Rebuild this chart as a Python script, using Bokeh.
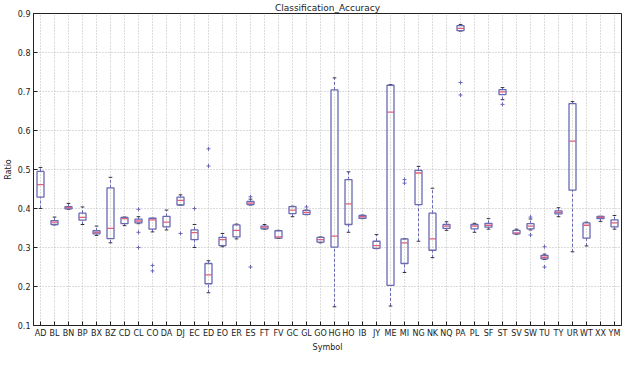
from bokeh.plotting import figure
from bokeh.models import FactorRange, Range1d, ColumnDataSource, FixedTicker
from bokeh.transform import dodge
from bokeh.embed import file_html
from bokeh.resources import INLINE

symbols = ["AD", "BL", "BN", "BP", "BX", "BZ", "CD", "CL", "CO", "DA", "DJ", "EC", "ED", "EO",
           "ER", "ES", "FT", "FV", "GC", "GL", "GO", "HG", "HO", "IB", "JY", "ME", "MI", "NG",
           "NK", "NQ", "PA", "PL", "SF", "ST", "SV", "SW", "TU", "TY", "UR", "WT", "XX", "YM"]

whisk_lo = [0.400, 0.358, 0.398, 0.359, 0.331, 0.312, 0.356, 0.361, 0.340, 0.345, 0.409, 0.300, 0.184, 0.302,
            0.322, 0.409, 0.347, 0.323, 0.379, 0.384, 0.312, 0.148, 0.339, 0.374, 0.297, 0.150, 0.236, 0.316,
            0.274, 0.344, 0.855, 0.339, 0.347, 0.679, 0.334, 0.345, 0.269, 0.379, 0.289, 0.304, 0.367, 0.347]
q1 = [0.429, 0.359, 0.399, 0.370, 0.335, 0.323, 0.361, 0.363, 0.347, 0.353, 0.409, 0.320, 0.207, 0.305,
      0.327, 0.410, 0.348, 0.324, 0.387, 0.385, 0.314, 0.301, 0.359, 0.375, 0.298, 0.203, 0.259, 0.410,
      0.293, 0.349, 0.856, 0.348, 0.352, 0.692, 0.335, 0.348, 0.271, 0.386, 0.447, 0.324, 0.374, 0.353]
median = [0.461, 0.365, 0.402, 0.377, 0.339, 0.349, 0.374, 0.368, 0.371, 0.365, 0.421, 0.338, 0.230, 0.320,
          0.344, 0.414, 0.352, 0.327, 0.396, 0.390, 0.320, 0.329, 0.412, 0.379, 0.305, 0.647, 0.312, 0.491,
          0.322, 0.355, 0.862, 0.355, 0.357, 0.699, 0.3375, 0.355, 0.275, 0.390, 0.573, 0.357, 0.377, 0.363]
q3 = [0.495, 0.369, 0.405, 0.388, 0.343, 0.453, 0.377, 0.373, 0.375, 0.380, 0.429, 0.345, 0.259, 0.326,
      0.358, 0.418, 0.355, 0.343, 0.405, 0.395, 0.326, 0.704, 0.474, 0.382, 0.316, 0.716, 0.322, 0.498,
      0.388, 0.359, 0.869, 0.359, 0.362, 0.705, 0.344, 0.361, 0.280, 0.394, 0.669, 0.363, 0.380, 0.371]
whisk_hi = [0.505, 0.378, 0.413, 0.404, 0.355, 0.480, 0.378, 0.379, 0.375, 0.396, 0.435, 0.359, 0.266, 0.336,
            0.360, 0.424, 0.359, 0.344, 0.406, 0.396, 0.327, 0.735, 0.494, 0.383, 0.333, 0.718, 0.322, 0.508,
            0.452, 0.366, 0.872, 0.362, 0.374, 0.710, 0.347, 0.373, 0.283, 0.402, 0.674, 0.365, 0.380, 0.382]

flier_sym = ["CL", "CL", "CL", "CO", "CO", "DJ", "EC", "ED", "ED", "ES", "ES", "GL", "MI", "MI",
             "PA", "PA", "ST", "SW", "SW", "TU", "TU"]
flier_val = [0.398, 0.339, 0.300, 0.254, 0.240, 0.336, 0.400, 0.553, 0.509, 0.430, 0.250, 0.404, 0.474, 0.465,
             0.723, 0.691, 0.667, 0.378, 0.332, 0.302, 0.250]

y_ticks = [0.1, 0.2, 0.3, 0.4, 0.5, 0.6, 0.7, 0.8, 0.9]

BOX = "#6a6ab4"
MED = "#e0607a"
FONT = "DejaVu Sans"

src = ColumnDataSource(dict(sym=symbols, lo=whisk_lo, q1=q1, med=median, q3=q3, hi=whisk_hi))
fsrc = ColumnDataSource(dict(sym=flier_sym, val=flier_val))

p = figure(width=624, height=354, output_backend="svg", toolbar_location=None,
           x_range=FactorRange(*symbols), y_range=Range1d(0.1, 0.9),
           title="Classification_Accuracy", min_border_left=4, min_border_right=3,
           min_border_top=2, min_border_bottom=2)
p.background_fill_color = "white"
p.border_fill_color = "white"
p.outline_line_color = "#222222"
p.outline_line_width = 1

p.title.align = "center"
p.title.text_font = FONT
p.title.text_font_size = "9px"
p.title.text_font_style = "normal"
p.title.text_color = "#222222"
p.title.standoff = 1

# whiskers
p.segment(x0="sym", y0="q3", x1="sym", y1="hi", source=src, line_color=BOX, line_width=1, line_dash="3 2")
p.segment(x0="sym", y0="lo", x1="sym", y1="q1", source=src, line_color=BOX, line_width=1, line_dash="3 2")
# caps
p.segment(x0=dodge("sym", -0.13, range=p.x_range), y0="hi", x1=dodge("sym", 0.13, range=p.x_range), y1="hi",
          source=src, line_color="#333333", line_width=1)
p.segment(x0=dodge("sym", -0.13, range=p.x_range), y0="lo", x1=dodge("sym", 0.13, range=p.x_range), y1="lo",
          source=src, line_color="#333333", line_width=1)
# boxes
p.vbar(x="sym", bottom="q1", top="q3", width=0.5, source=src, fill_color="white", fill_alpha=0.0,
       line_color=BOX, line_width=1.3)
# medians
p.segment(x0=dodge("sym", -0.25, range=p.x_range), y0="med", x1=dodge("sym", 0.25, range=p.x_range), y1="med",
          source=src, line_color=MED, line_width=1.3)
# fliers
p.scatter(x="sym", y="val", source=fsrc, marker="cross", size=4, line_color=BOX, line_width=1)

p.xgrid.grid_line_color = "#b8b8b8"
p.xgrid.grid_line_dash = "1 2"
p.ygrid.grid_line_color = "#b8b8b8"
p.ygrid.grid_line_dash = "1 2"

p.yaxis.ticker = FixedTicker(ticks=y_ticks)
p.yaxis.axis_label = "Ratio"
p.xaxis.axis_label = "Symbol"
for ax in (p.xaxis, p.yaxis):
    ax.axis_line_color = "#222222"
    ax.major_tick_in = 4
    ax.major_tick_out = 0
    ax.minor_tick_line_color = None
    ax.major_tick_line_color = "#222222"
    ax.major_label_text_font = FONT
    ax.major_label_text_font_size = "8px"
    ax.major_label_text_color = "#222222"
    ax.axis_label_text_font = FONT
    ax.axis_label_text_font_size = "8px"
    ax.axis_label_text_font_style = "normal"
    ax.axis_label_text_color = "#222222"
    ax.axis_label_standoff = 2
    ax.major_label_standoff = 3

open("out.html", "w").write(file_html(p, INLINE))
